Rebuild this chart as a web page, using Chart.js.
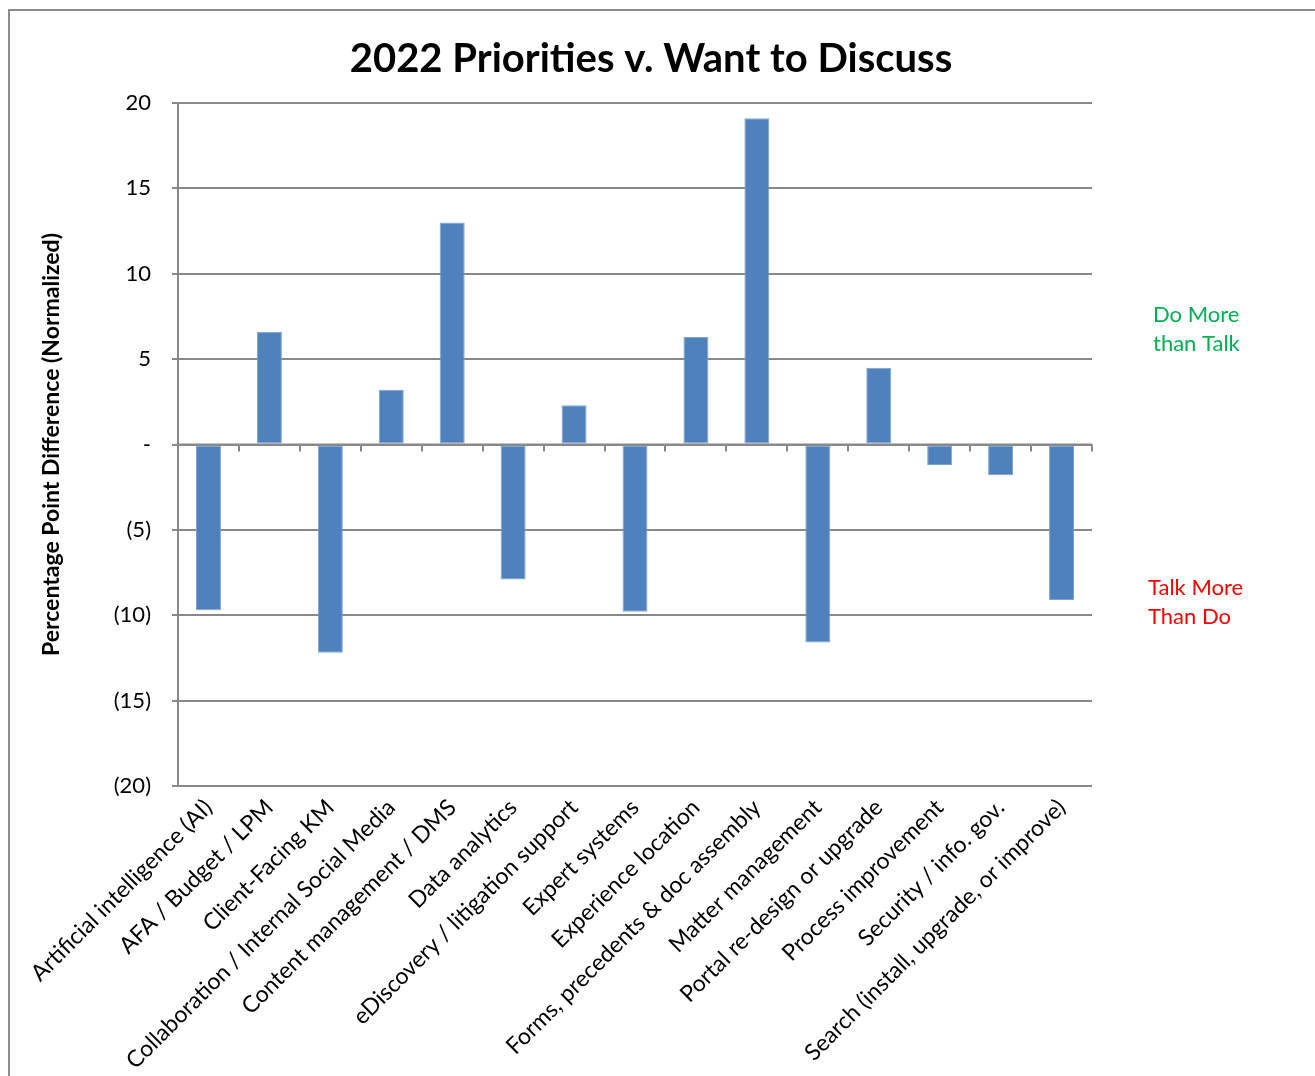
<!DOCTYPE html>
<html lang="en">
<head>
  <meta charset="UTF-8">
  <title>2022 Priorities v. Want to Discuss</title>
  <script src="https://cdn.jsdelivr.net/npm/chart.js"></script>
  <style>
    html, body { margin: 0; padding: 0; background: #fff; overflow: hidden; }
    .frame { position: absolute; left: 8px; top: 9px; width: 1400px; height: 1200px; border: 2px solid #8c8c8c; box-sizing: border-box; }
    .wrap { position: absolute; left: 0; top: 0; width: 1315px; height: 1076px; }
  </style>
</head>
<body>
  <div class="frame"></div>
  <div class="wrap"><canvas id="chart"></canvas></div>

  <script>
    // Categories and percentage point differences
    const categories = [
      'Artificial intelligence (AI)',
      'AFA / Budget / LPM',
      'Client-Facing KM',
      'Collaboration / Internal Social Media',
      'Content management / DMS',
      'Data analytics',
      'eDiscovery / litigation support',
      'Expert systems',
      'Experience location',
      'Forms, precedents & doc assembly',
      'Matter management',
      'Portal re-design or upgrade',
      'Process improvement',
      'Security / info. gov.',
      'Search (install, upgrade, or improve)'
    ];
    const differences = [-9.7, 6.6, -12.2, 3.2, 13.0, -7.9, 2.3, -9.8, 6.3, 19.1, -11.6, 4.5, -1.2, -1.8, -9.1];

    const yTicks = [-20, -15, -10, -5, 0, 5, 10, 15, 20];
    const chartTitle = '2022 Priorities v. Want to Discuss';
    const noteLines = [
      { text: ['Do More', 'than Talk'], color: '#00B050', x: 1153, y: 315 },
      { text: ['Talk More', 'Than Do'], color: '#FF0000', x: 1148, y: 588 }
    ];

    const gridColor = '#888888';
    const labelFont = 'Lato, "Open Sans", sans-serif';

    // small tick marks between categories along the zero line
    const zeroTicks = {
      id: 'zeroTicks',
      afterDatasetsDraw(chart) {
        const x = chart.scales.x, y = chart.scales.y;
        const y0 = y.getPixelForValue(0);
        const c = chart.ctx;
        c.save();
        c.strokeStyle = gridColor;
        c.lineWidth = 2;
        c.beginPath();
        c.moveTo(x.left, y0);
        c.lineTo(x.right, y0);
        for (let i = 0; i <= categories.length; i++) {
          const px = Math.round(x.getPixelForValue(i - 0.5));
          c.moveTo(px, y0);
          c.lineTo(px, y0 + 7);
        }
        c.stroke();
        c.restore();
      }
    };

    // title across the whole frame plus the side notes explaining the sign
    const headerAndNotes = {
      id: 'headerAndNotes',
      afterDraw(chart) {
        const c = chart.ctx;
        c.save();
        c.fillStyle = '#000';
        c.font = 'bold 40px ' + labelFont;
        c.textAlign = 'center';
        c.textBaseline = 'middle';
        c.fillText(chartTitle, 651, 59);
        c.font = '22px ' + labelFont;
        c.textAlign = 'left';
        noteLines.forEach(n => {
          c.fillStyle = n.color;
          n.text.forEach((t, i) => c.fillText(t, n.x, n.y + i * 29));
        });
        c.restore();
      }
    };

    new Chart(document.getElementById('chart'), {
      type: 'bar',
      data: {
        labels: categories,
        datasets: [{
          data: differences,
          backgroundColor: '#4F81BD',
          borderColor: '#7ea3d1',
          borderWidth: 1,
          borderSkipped: false,
          categoryPercentage: 1,
          barPercentage: 0.41
        }]
      },
      options: {
        responsive: true,
        maintainAspectRatio: false,
        animation: false,
        layout: { padding: { top: 103, right: 223, bottom: 0, left: 0 } },
        plugins: {
          legend: { display: false },
          tooltip: { enabled: false },
          title: { display: false }
        },
        scales: {
          x: {
            grid: { display: false, drawTicks: false },
            border: { display: false },
            ticks: {
              color: '#000',
              font: { family: labelFont, size: 23 },
              minRotation: 45,
              maxRotation: 45,
              autoSkip: false,
              padding: 8
            },
            afterFit(s) { s.height = 290; }
          },
          y: {
            min: -20,
            max: 20,
            afterBuildTicks(s) { s.ticks = yTicks.map(v => ({ value: v })); },
            grid: { color: gridColor, lineWidth: 2, tickLength: 6 },
            border: { color: gridColor, width: 2 },
            ticks: {
              color: '#000',
              font: { family: labelFont, size: 22 },
              padding: 21,
              callback: v => v === 0 ? '-' : (v < 0 ? '(' + (-v) + ')' : String(v))
            },
            title: {
              display: true,
              text: 'Percentage Point Difference (Normalized)',
              color: '#000',
              font: { family: labelFont, size: 23, weight: 'bold' },
              padding: { top: 38, bottom: 0 }
            },
            afterFit(s) { s.width = 178; }
          }
        }
      },
      plugins: [zeroTicks, headerAndNotes]
    });
  </script>
</body>
</html>
